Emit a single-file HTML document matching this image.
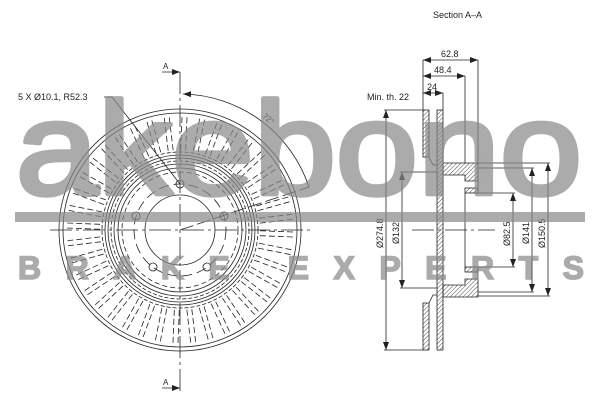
<!DOCTYPE html>
<html><head><meta charset="utf-8"><style>
html,body{margin:0;padding:0;background:#fff;width:600px;height:400px;overflow:hidden}
svg{display:block}
text{font-family:"Liberation Sans",sans-serif;fill:#222}
</style></head><body>
<svg id="s" width="600" height="400" viewBox="0 0 600 400" xmlns="http://www.w3.org/2000/svg">
<defs>
<pattern id="h" width="3" height="3" patternUnits="userSpaceOnUse" patternTransform="rotate(45)">
<line x1="0" y1="0" x2="0" y2="3" stroke="#222" stroke-width="0.8"/></pattern>
<marker id="ar" markerWidth="8" markerHeight="6" refX="8" refY="3" orient="auto-start-reverse" markerUnits="userSpaceOnUse">
<path d="M0,0 L8,3 L0,6 z" fill="#222"/></marker>
</defs>
<g id="front" fill="none" stroke="#222" stroke-width="0.8">
<circle cx="180" cy="230" r="121"/>
<circle cx="180" cy="230" r="117"/>
<circle cx="180" cy="230" r="78" stroke-dasharray="4 2"/>
<circle cx="180" cy="230" r="75"/>
<circle cx="180" cy="230" r="72"/>
<circle cx="180" cy="230" r="69" stroke-dasharray="4 2"/>
<circle cx="180" cy="230" r="66"/>
<circle cx="180" cy="230" r="62"/>
<circle cx="180" cy="230" r="58" stroke-dasharray="5 3"/>
<circle cx="180" cy="230" r="46" stroke-dasharray="10 5"/>
<circle cx="180" cy="230" r="35"/>
<circle cx="180" cy="184" r="4"/>
<circle cx="224" cy="216" r="4"/>
<circle cx="207" cy="267" r="4"/>
<circle cx="153" cy="267" r="4"/>
<circle cx="136" cy="216" r="4"/>
<line x1="180" y1="72" x2="180" y2="392" stroke-dasharray="22 4 3 4"/>
<line x1="50" y1="230" x2="312" y2="230" stroke-dasharray="22 4 3 4"/>
<line x1="180" y1="230" x2="309" y2="187" stroke-dasharray="14 4"/>
<path d="M183,94 A136,136 0 0 1 309,187" marker-start="url(#ar)"/>
<line x1="162" y1="72" x2="180" y2="72" marker-end="url(#ar)"/>
<line x1="162" y1="388" x2="180" y2="388" marker-end="url(#ar)"/>
<polyline points="104,97 112,97 180,184"/>
</g>
<text x="163" y="69" font-size="8">A</text>
<text x="163" y="385" font-size="8">A</text>
<text x="18" y="100" font-size="9">5 X Ø10.1, R52.3</text>
<text x="262" y="117" font-size="8" transform="rotate(40 262 117)">72°</text>

<g fill="none" stroke="#222" stroke-width="0.8">
<rect x="423" y="110" width="6" height="47" fill="url(#h)"/>
<rect x="423" y="303" width="6" height="47" fill="url(#h)"/>
<rect x="437" y="110" width="6" height="240" fill="url(#h)"/>
<polyline points="429,157 433,165 437,165"/>
<polyline points="429,303 433,295 437,295"/>
<polygon points="443,163 478,163 478,181 465,181 465,175 443,175" fill="url(#h)"/>
<polygon points="443,297 478,297 478,279 465,279 465,285 443,285" fill="url(#h)"/>
<rect x="465" y="188" width="13" height="5" fill="url(#h)"/>
<rect x="465" y="267" width="13" height="5" fill="url(#h)"/>
<line x1="465" y1="193" x2="465" y2="267"/>
<line x1="478" y1="181" x2="478" y2="188"/>
<line x1="478" y1="272" x2="478" y2="279"/>
<line x1="423" y1="60" x2="423" y2="110"/>
<line x1="443" y1="93" x2="443" y2="110"/>
<line x1="465" y1="76" x2="465" y2="163"/>
<line x1="478" y1="60" x2="478" y2="163"/>
<line x1="423" y1="60" x2="478" y2="60" marker-start="url(#ar)" marker-end="url(#ar)"/>
<line x1="423" y1="76" x2="465" y2="76" marker-start="url(#ar)" marker-end="url(#ar)"/>
<line x1="423" y1="93" x2="443" y2="93" marker-start="url(#ar)" marker-end="url(#ar)"/>
<line x1="384" y1="110" x2="423" y2="110"/><line x1="384" y1="350" x2="423" y2="350"/>
<line x1="386" y1="110" x2="386" y2="350" marker-start="url(#ar)" marker-end="url(#ar)"/>
<line x1="400" y1="172" x2="437" y2="172"/><line x1="400" y1="288" x2="437" y2="288"/>
<line x1="402" y1="172" x2="402" y2="288" marker-start="url(#ar)" marker-end="url(#ar)"/>
<line x1="478" y1="193" x2="515" y2="193"/><line x1="478" y1="267" x2="515" y2="267"/>
<line x1="513" y1="193" x2="513" y2="267" marker-start="url(#ar)" marker-end="url(#ar)"/>
<line x1="478" y1="168" x2="534" y2="168"/><line x1="478" y1="292" x2="534" y2="292"/>
<line x1="532" y1="168" x2="532" y2="292" marker-start="url(#ar)" marker-end="url(#ar)"/>
<line x1="478" y1="163" x2="550" y2="163"/><line x1="478" y1="296" x2="550" y2="296"/>
<line x1="548" y1="163" x2="548" y2="296" marker-start="url(#ar)" marker-end="url(#ar)"/>
<line x1="412" y1="230" x2="495" y2="230" stroke-dasharray="22 4 3 4"/>
</g>
<text x="433" y="18" font-size="9">Section A–A</text>
<text x="441" y="57" font-size="9">62.8</text>
<text x="434" y="73" font-size="9">48.4</text>
<text x="427" y="90" font-size="9">24</text>
<text x="367" y="100" font-size="9">Min. th. 22</text>
<text font-size="9" transform="translate(383 248) rotate(-90)">Ø274.8</text>
<text font-size="9" transform="translate(399 244) rotate(-90)">Ø132</text>
<text font-size="9" transform="translate(510 246) rotate(-90)">Ø82.5</text>
<text font-size="9" transform="translate(529 244) rotate(-90)">Ø141</text>
<text font-size="9" transform="translate(545 248) rotate(-90)">Ø150.5</text>

<g opacity="0.7" fill="#888">
<g transform="translate(0 194) scale(1 1.08)">
<text x="16" y="0" font-size="122" textLength="566" lengthAdjust="spacingAndGlyphs" style="fill:#888;stroke:#888;stroke-width:4.5;stroke-linejoin:round">akebono</text>
</g>
<rect x="15" y="212" width="570" height="10"/>
<text x="18" y="279" font-size="32" font-weight="bold" textLength="566" lengthAdjust="spacing" style="fill:#888;stroke:#888;stroke-width:1.5">BRAKE EXPERTS</text>
</g>
</svg>
<script>
var s=document.getElementById('front'),N='http://www.w3.org/2000/svg';
for(var i=0;i<40;i++){var a=i*Math.PI*2/40+0.04;
for(var k=-1;k<=1;k+=2){var ox=-Math.sin(a)*2.5*k,oy=Math.cos(a)*2.5*k;
var l=document.createElementNS(N,'line');
l.setAttribute('x1',180+Math.cos(a)*80+ox);l.setAttribute('y1',230+Math.sin(a)*80+oy);
l.setAttribute('x2',180+Math.cos(a)*115+ox);l.setAttribute('y2',230+Math.sin(a)*115+oy);
l.setAttribute('stroke-dasharray','6 3');s.appendChild(l);}}
</script>
</body></html>
